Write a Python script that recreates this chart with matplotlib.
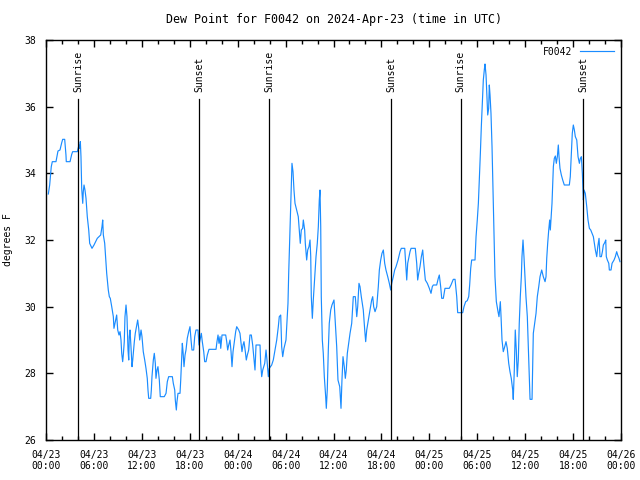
import numpy as np
import pandas as pd
import matplotlib
matplotlib.use("Agg")
import matplotlib.pyplot as plt
import matplotlib.dates as mdates

plt.rcParams['font.family'] = ['DejaVu Sans Mono']
plt.rcParams['font.size'] = 7

#%% data (hours after 2024-04-23 00:00 UTC, dew point in F)
start = pd.Timestamp("2024-04-23 00:00")
hours = [0.29, 0.46, 0.66, 0.79, 1.25, 1.50, 1.75, 1.97, 2.09, 2.34, 2.50, 2.54, 3.01, 3.22, 3.34, 3.92,
         4.13, 4.22, 4.30, 4.38, 4.47, 4.60, 4.67, 4.76, 4.88, 5.01, 5.17, 5.35, 5.47, 5.76, 6.01, 6.42,
         6.85, 7.01, 7.10, 7.18, 7.35, 7.43, 7.60, 7.80, 7.93, 8.05, 8.23, 8.43, 8.51, 8.73, 8.85, 8.98,
         9.14, 9.27, 9.39, 9.48, 9.60, 9.68, 9.80, 9.89, 10.02, 10.14, 10.27, 10.36, 10.43, 10.52, 10.64,
         10.77, 10.86, 11.06, 11.18, 11.36, 11.48, 11.61, 11.73, 11.90, 12.02, 12.18, 12.36, 12.52, 12.68,
         12.77, 12.86, 13.11, 13.19, 13.27, 13.44, 13.56, 13.69, 13.77, 13.90, 14.02, 14.19, 14.31, 14.81,
         15.03, 15.19, 15.36, 15.82, 15.94, 16.12, 16.19, 16.32, 16.40, 16.53, 16.78, 16.87, 16.99, 17.07,
         17.16, 17.28, 17.41, 17.53, 17.69, 17.87, 18.03, 18.16, 18.28, 18.49, 18.62, 18.78, 19.03, 19.16,
         19.28, 19.45, 19.57, 19.75, 19.87, 20.04, 20.20, 20.41, 21.29, 21.41, 21.54, 21.66, 21.79, 21.88,
         22.04, 22.50, 22.63, 22.75, 22.88, 23.04, 23.17, 23.29, 23.42, 23.58, 23.75, 23.88, 24.13, 24.29,
         24.42, 24.54, 24.67, 24.79, 24.96, 25.08, 25.21, 25.38, 25.54, 25.71, 25.88, 26.05, 26.17, 26.30,
         26.80, 26.88, 27.01, 27.14, 27.39, 27.55, 27.67, 27.84, 27.96, 28.26, 28.46, 28.68, 28.89, 29.09,
         29.21, 29.39, 29.51, 29.64, 29.80, 30.05, 30.14, 30.30, 30.39, 30.55, 30.68, 30.80, 30.93, 31.05,
         31.18, 31.39, 31.59, 31.72, 31.84, 31.97, 32.14, 32.22, 32.39, 32.47, 32.64, 32.77, 32.93, 33.06,
         33.15, 33.22, 33.35, 33.47, 33.65, 33.81, 33.97, 34.10, 34.22, 34.31, 34.40, 34.47, 34.60, 34.72,
         34.85, 35.02, 35.10, 35.22, 35.35, 35.47, 35.65, 35.81, 36.06, 36.23, 36.40, 36.56, 36.78, 36.94,
         37.06, 37.19, 37.35, 37.48, 37.60, 37.73, 37.90, 38.07, 38.28, 38.48, 38.73, 38.91, 39.03, 39.19,
         39.32, 39.48, 39.73, 39.91, 40.03, 40.16, 40.36, 40.57, 40.78, 40.91, 41.03, 41.20, 41.41, 41.61,
         41.74, 41.91, 42.07, 42.24, 42.41, 42.57, 42.79, 42.99, 43.16, 43.29, 43.49, 43.66, 43.83, 44.08,
         44.33, 44.49, 44.92, 45.04, 45.17, 45.29, 45.45, 45.58, 45.71, 46.24, 46.42, 46.54, 46.67, 46.83,
         47.00, 47.17, 47.30, 47.50, 47.75, 48.00, 48.21, 48.37, 48.50, 48.92, 49.12, 49.25, 49.42, 49.55,
         49.75, 49.96, 50.50, 50.71, 51.00, 51.22, 51.43, 51.55, 52.18, 52.34, 52.55, 52.75, 52.93, 53.05,
         53.18, 53.30, 53.72, 53.85, 54.01, 54.14, 54.26, 54.39, 54.51, 54.64, 54.76, 54.89, 54.97, 55.10,
         55.22, 55.31, 55.43, 55.51, 55.60, 55.72, 55.85, 55.97, 56.10, 56.22, 56.39, 56.60, 56.72, 56.89,
         56.98, 57.10, 57.26, 57.44, 57.60, 57.76, 57.94, 58.10, 58.26, 58.44, 58.51, 58.64, 58.76, 58.89,
         59.01, 59.14, 59.26, 59.39, 59.52, 59.60, 59.73, 59.85, 59.98, 60.10, 60.27, 60.39, 60.52, 60.61,
         60.86, 60.94, 61.02, 61.19, 61.36, 61.52, 61.70, 61.86, 62.07, 62.27, 62.49, 62.61, 62.70, 62.82,
         62.95, 63.07, 63.15, 63.24, 63.36, 63.45, 63.53, 63.65, 63.78, 63.90, 64.03, 64.15, 64.24, 64.36,
         64.53, 64.70, 64.90, 65.53, 65.65, 65.78, 65.90, 66.03, 66.16, 66.28, 66.46, 66.62, 66.79, 66.91,
         67.04, 67.16, 67.29, 67.37, 67.53, 67.71, 67.87, 68.04, 68.21, 68.37, 68.54, 68.66, 68.79, 68.96,
         69.09, 69.25, 69.37, 69.54, 69.67, 69.79, 69.96, 70.09, 70.16, 70.29, 70.47, 70.54, 70.75, 70.88,
         71.13, 71.29, 71.46, 71.58, 71.75, 71.87]
dewpt = [33.38, 33.65, 34.2, 34.35, 34.35, 34.67, 34.7, 34.92, 35.02, 35.02, 34.55, 34.35, 34.35, 34.57, 34.65, 34.65,
         34.85, 34.75, 34.95, 34.5, 33.55, 33.1, 33.45, 33.65, 33.5, 33.25, 32.7, 32.3, 31.9, 31.75, 31.85, 32.05,
         32.15, 32.4, 32.6, 32.15, 31.9, 31.6, 31.0, 30.5, 30.3, 30.25, 30.0, 29.7, 29.35, 29.6, 29.75, 29.3,
         29.15, 29.25, 29.0, 28.6, 28.35, 28.55, 28.95, 29.7, 30.05, 29.7, 28.7, 28.4, 29.1, 29.3, 28.8,
         28.2, 28.4, 28.95, 29.2, 29.45, 29.6, 29.35, 29.0, 29.3, 29.1, 28.65, 28.4, 28.15, 27.85,
         27.5, 27.25, 27.25, 27.5, 27.9, 28.4, 28.6, 28.3, 27.85, 28.1, 28.2, 27.8, 27.3, 27.3,
         27.4, 27.75, 27.9, 27.9, 27.7, 27.5, 27.2, 26.9, 27.15, 27.4, 27.4, 27.8, 28.5, 28.9,
         28.65, 28.2, 28.55, 28.7, 29.05, 29.25, 29.4, 29.0, 28.7, 28.7, 29.1, 29.3, 29.3, 28.85,
         29.0, 29.2, 28.95, 28.65, 28.35, 28.35, 28.55, 28.72, 28.72, 28.95, 29.15, 28.9, 29.1, 28.75,
         29.15, 29.15, 28.95, 28.7, 28.85, 29.0, 28.65, 28.2, 28.65, 28.95, 29.25, 29.4, 29.3, 29.2,
         28.9, 28.65, 28.85, 28.95, 28.65, 28.4, 28.55, 28.7, 29.15, 29.15, 28.85, 28.4, 28.1, 28.85,
         28.85, 28.3, 27.9, 28.1, 28.3, 28.7, 28.4, 27.9, 28.15, 28.25, 28.4, 28.7, 29.0, 29.4,
         29.7, 29.75, 28.8, 28.5, 28.75, 29.0, 29.4, 30.1, 31.0, 32.3, 33.3, 34.3, 34.05, 33.5,
         33.1, 32.9, 32.7, 32.3, 31.9, 32.3, 32.35, 32.6, 32.3, 31.9, 31.4, 31.7, 31.8, 32.0,
         31.5, 30.3, 29.65, 30.2, 30.9, 31.5, 31.9, 32.4, 33.2, 33.5, 32.4, 30.3, 29.0, 28.6,
         27.9, 27.3, 26.95, 27.5, 28.7, 29.5, 29.9, 30.05, 30.2, 29.5, 28.8, 27.8, 27.6, 26.95,
         27.8, 28.5, 28.2, 27.85, 28.1, 28.6, 28.9, 29.2, 29.5, 30.3, 30.3, 29.7, 30.0, 30.7,
         30.6, 30.3, 29.9, 29.3, 28.95, 29.3, 29.6, 29.9, 30.2, 30.3, 30.0, 29.85, 30.0, 30.6,
         31.1, 31.4, 31.6, 31.7, 31.3, 31.1, 30.9, 30.7, 30.5, 30.7, 30.9, 31.1, 31.2, 31.4,
         31.65, 31.75, 31.75, 31.3, 30.8, 31.3, 31.5, 31.65, 31.75, 31.75, 31.3, 30.8, 31.0, 31.2,
         31.5, 31.7, 31.3, 30.8, 30.7, 30.55, 30.4, 30.6, 30.65, 30.65, 30.85, 30.95, 30.6, 30.25,
         30.25, 30.55, 30.55, 30.65, 30.82, 30.82, 30.3, 29.82, 29.82, 30.0, 30.15, 30.18, 30.3, 30.65,
         31.15, 31.4, 31.4, 32.1, 32.62, 33.1, 33.8, 34.6, 35.4, 36.15, 36.8, 37.12, 37.28, 36.95,
         36.3, 35.75, 35.95, 36.65, 36.35, 35.8, 34.8, 33.5, 32.2, 30.9, 30.15, 29.85, 29.7, 30.15,
         29.7, 29.0, 28.65, 28.8, 28.95, 28.75, 28.3, 28.05, 27.85, 27.5, 27.22, 28.1, 29.3, 28.7,
         27.9, 28.4, 29.5, 30.3, 30.9, 31.5, 32.0, 31.5, 30.9, 30.3, 29.7, 28.8, 27.8, 27.22,
         27.22, 28.3, 29.2, 29.5, 29.8, 30.3, 30.6, 30.9, 31.1, 30.9, 30.75, 30.9, 31.45, 31.9,
         32.3, 32.6, 32.3, 32.65, 33.1, 33.7, 34.2, 34.45, 34.52, 34.3, 34.5, 34.85, 34.5, 34.15,
         33.95, 33.8, 33.65, 33.65, 33.9, 34.6, 35.2, 35.45, 35.3, 35.1, 35.0, 34.5, 34.3, 34.45,
         34.5, 34.0, 33.2, 33.5, 33.4, 33.0, 32.6, 32.35, 32.3, 32.2, 32.1, 31.9, 31.7, 31.5,
         31.8, 32.05, 31.5, 31.5, 31.65, 31.85, 31.92, 32.0, 31.5, 31.4, 31.3, 31.1, 31.1, 31.3,
         31.4, 31.5, 31.65, 31.55, 31.45, 31.35]

sun_times = ["2024-04-23 04:02", "2024-04-23 19:10", "2024-04-24 03:58",
             "2024-04-24 19:15", "2024-04-25 03:56", "2024-04-25 19:17"]
sun_labels = ["Sunrise", "Sunset", "Sunrise", "Sunset", "Sunrise", "Sunset"]

t = start + pd.to_timedelta(hours, unit='h')

#%% plot
fig = plt.figure(figsize=(6.4, 4.8), dpi=100)
ax = fig.add_axes([46/640, 40/480, 575/640, 400/480])

ax.plot(t, dewpt, color='#1a8cff', lw=0.85, label='F0042')

for st, lab in zip(sun_times, sun_labels):
    ts = pd.Timestamp(st)
    ax.plot([ts, ts], [26, 36.23], color='k', lw=0.9)
    ax.text(ts, 36.44, lab, rotation=90, ha='center', va='bottom')

ax.set_xlim(start, start + pd.Timedelta(hours=72))
ax.set_ylim(26, 38)
ax.set_yticks(np.arange(26, 39, 2))
ax.xaxis.set_major_locator(mdates.HourLocator(byhour=range(0, 24, 6)))
ax.xaxis.set_minor_locator(mdates.HourLocator(interval=2))
ax.xaxis.set_major_formatter(mdates.DateFormatter('%m/%d\n%H:%M'))
ax.tick_params(which='both', direction='in', top=True, right=True, width=1)
ax.tick_params(which='major', length=5, pad=7)
ax.tick_params(which='minor', length=3)
for s in ax.spines.values():
    s.set_linewidth(1)

ax.set_ylabel('degrees F', labelpad=8)
ax.set_title('Dew Point for F0042 on 2024-Apr-23 (time in UTC)', pad=12)
ax.legend(loc='upper right', frameon=False, markerfirst=False, handlelength=3.5,
          borderaxespad=0.3, handletextpad=0.8)

plt.savefig('out.png', dpi=100)
